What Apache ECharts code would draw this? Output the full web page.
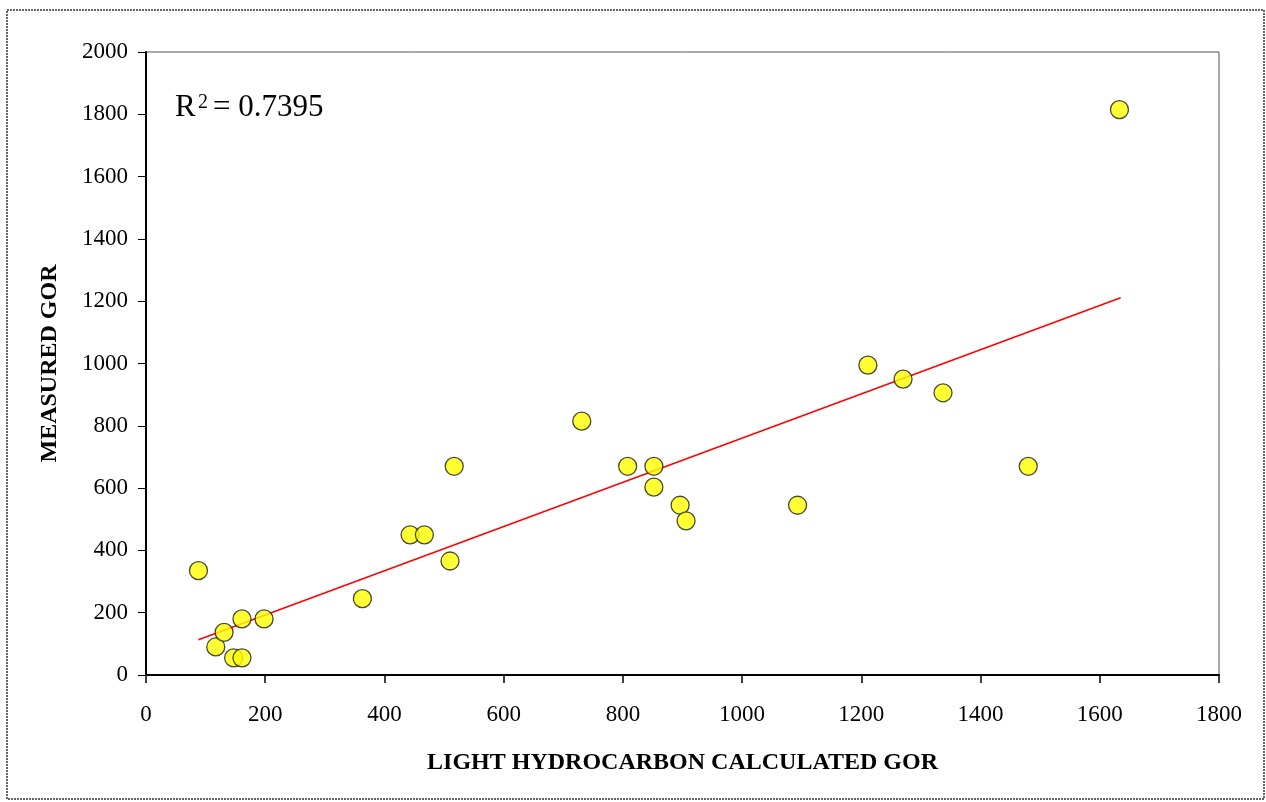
<!DOCTYPE html>
<html>
<head>
<meta charset="utf-8">
<script src="https://cdn.jsdelivr.net/npm/echarts@6/dist/echarts.min.js"></script>
<style>
  html, body { margin: 0; padding: 0; background: #fff; }
  #chart { width: 1266px; height: 802px; }
</style>
</head>
<body>
<div id="chart"></div>
<script>
// Light hydrocarbon calculated GOR vs measured GOR
const calcGor = [88, 117, 131, 147, 161, 161, 198, 363, 443, 467, 510, 517,
                 731, 808, 852, 852, 896, 906, 1093, 1211, 1270, 1337, 1480, 1633];
const measuredGor = [335, 90, 137, 55, 55, 180, 180, 245, 450, 450, 366, 670,
                     815, 670, 670, 603, 545, 495, 545, 995, 950, 906, 670, 1815];
// Linear trend line end points
const trendX = [88, 1635];
const trendY = [113, 1211];
const r2Text = '0.7395';
const xTitle = 'LIGHT HYDROCARBON CALCULATED GOR';
const yTitle = 'MEASURED GOR';

const points = calcGor.map((x, i) => [x, measuredGor[i]]);
const trend = trendX.map((x, i) => [x, trendY[i]]);

const serif = '"Liberation Serif", "Times New Roman", serif';
const chart = echarts.init(document.getElementById('chart'));

chart.setOption({
  animation: false,
  backgroundColor: '#fff',
  textStyle: { fontFamily: serif },
  grid: {
    left: 146, top: 52, right: 47, bottom: 127,
    show: true, borderColor: '#555', borderWidth: 1, backgroundColor: '#fff'
  },
  xAxis: {
    type: 'value', min: 0, max: 1800, interval: 200,
    name: xTitle, nameLocation: 'middle', nameGap: 76,
    nameTextStyle: { fontFamily: serif, fontSize: 24, fontWeight: 'bold', color: '#000' },
    axisLine: { show: true, lineStyle: { color: '#000', width: 2 } },
    axisTick: { show: true, inside: false, length: 8, lineStyle: { color: '#000', width: 1.5 } },
    axisLabel: { fontFamily: serif, fontSize: 23, color: '#000', margin: 28,
                 formatter: v => String(v) },
    splitLine: { show: false }
  },
  yAxis: {
    type: 'value', min: 0, max: 2000, interval: 200,
    name: yTitle, nameLocation: 'middle', nameGap: 84, nameRotate: 90,
    nameTextStyle: { fontFamily: serif, fontSize: 24, fontWeight: 'bold', color: '#000' },
    axisLine: { show: true, lineStyle: { color: '#000', width: 2 } },
    axisTick: { show: true, inside: false, length: 8, lineStyle: { color: '#000', width: 1 } },
    axisLabel: { fontFamily: serif, fontSize: 23, color: '#000', margin: 18,
                 formatter: v => String(v) },
    splitLine: { show: false }
  },
  series: [
    {
      type: 'line',
      data: trend,
      symbol: 'none',
      lineStyle: { color: '#ff0000', width: 1.5 },
      z: 2
    },
    {
      type: 'scatter',
      data: points,
      symbol: 'circle',
      symbolSize: 18,
      itemStyle: { color: '#ffff00', borderColor: '#1a1a1a', borderWidth: 1.3 },
      z: 3
    }
  ],
  graphic: [
    {
      type: 'rect',
      shape: { x: 7, y: 10, width: 1257, height: 789 },
      style: { fill: 'none', stroke: '#333', lineWidth: 1.5, lineDash: [2, 1] },
      silent: true, z: -1
    },
    {
      type: 'text', x: 175, y: 108, z: 10,
      style: { text: 'R', font: '31px ' + serif, fill: '#000', verticalAlign: 'middle' }
    },
    {
      type: 'text', x: 198, y: 103, z: 10,
      style: { text: '2', font: '20px ' + serif, fill: '#000', verticalAlign: 'middle' }
    },
    {
      type: 'text', x: 213, y: 108, z: 10,
      style: { text: '= ' + r2Text, font: '31px ' + serif, fill: '#000', verticalAlign: 'middle' }
    }
  ]
});
</script>
</body>
</html>
